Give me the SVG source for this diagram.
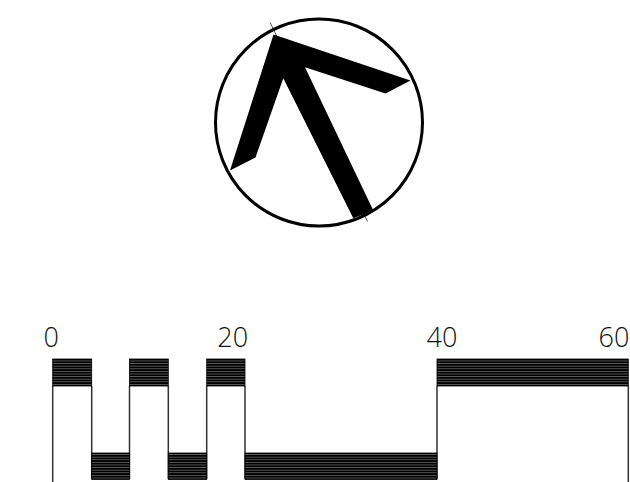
<svg xmlns="http://www.w3.org/2000/svg" width="630" height="482" viewBox="0 0 630 482">
<defs>
<pattern id="hatch" x="0" y="0" width="4" height="2.6" patternUnits="userSpaceOnUse">
<rect width="4" height="2.6" fill="#000"/>
<rect y="1.9" width="4" height="0.7" fill="#777"/>
</pattern>
<style>
.bar{fill:url(#hatch);stroke:#000;stroke-width:0.8}
.edge{stroke:#333;stroke-width:1.5;fill:none}
.lbl{font-family:"Open Sans","DejaVu Sans",sans-serif;font-weight:300;font-size:27px;fill:#111;text-anchor:middle}
</style>
</defs>
<rect width="630" height="482" fill="#fff"/>
<g id="compass">
<line x1="270" y1="22.3" x2="367.5" y2="221.5" stroke="#555" stroke-width="1"/>
<circle cx="319" cy="122.5" r="103.5" fill="none" stroke="#000" stroke-width="3"/>
<polygon points="273.5,34.5 410.5,80.5 385.5,93.5 305,67.3 373.3,210.5 353.3,218.3 283.3,78.3 255.5,157.5 230,170.5" fill="#000"/>
</g>
<g id="timeline">
<g id="connectors">
<line class="edge" x1="52.7" y1="386" x2="52.7" y2="482"/>
<line class="edge" x1="91.7" y1="386" x2="91.7" y2="479"/>
<line class="edge" x1="129.5" y1="386" x2="129.5" y2="479"/>
<line class="edge" x1="168.3" y1="386" x2="168.3" y2="479"/>
<line class="edge" x1="206.7" y1="386" x2="206.7" y2="479"/>
<line class="edge" x1="245" y1="386" x2="245" y2="479"/>
<line class="edge" x1="437" y1="386" x2="437" y2="479"/>
<line class="edge" x1="628.3" y1="386" x2="628.3" y2="482"/>
</g>
<g id="bars">
<rect class="bar" x="52.7" y="359" width="39" height="27"/>
<rect class="bar" x="129.5" y="359" width="38.8" height="27"/>
<rect class="bar" x="206.7" y="359" width="38.3" height="27"/>
<rect class="bar" x="437" y="359" width="191.3" height="27"/>
<rect class="bar" x="91.7" y="453" width="37.8" height="26.5"/>
<rect class="bar" x="168.3" y="453" width="38.4" height="26.5"/>
<rect class="bar" x="245" y="453" width="192" height="26.5"/>
</g>
<g id="labels">
<text class="lbl" x="51.3" y="347">0</text>
<text class="lbl" x="232.7" y="347">20</text>
<text class="lbl" x="442" y="347">40</text>
<text class="lbl" x="614" y="347">60</text>
</g>
</g>
</svg>
